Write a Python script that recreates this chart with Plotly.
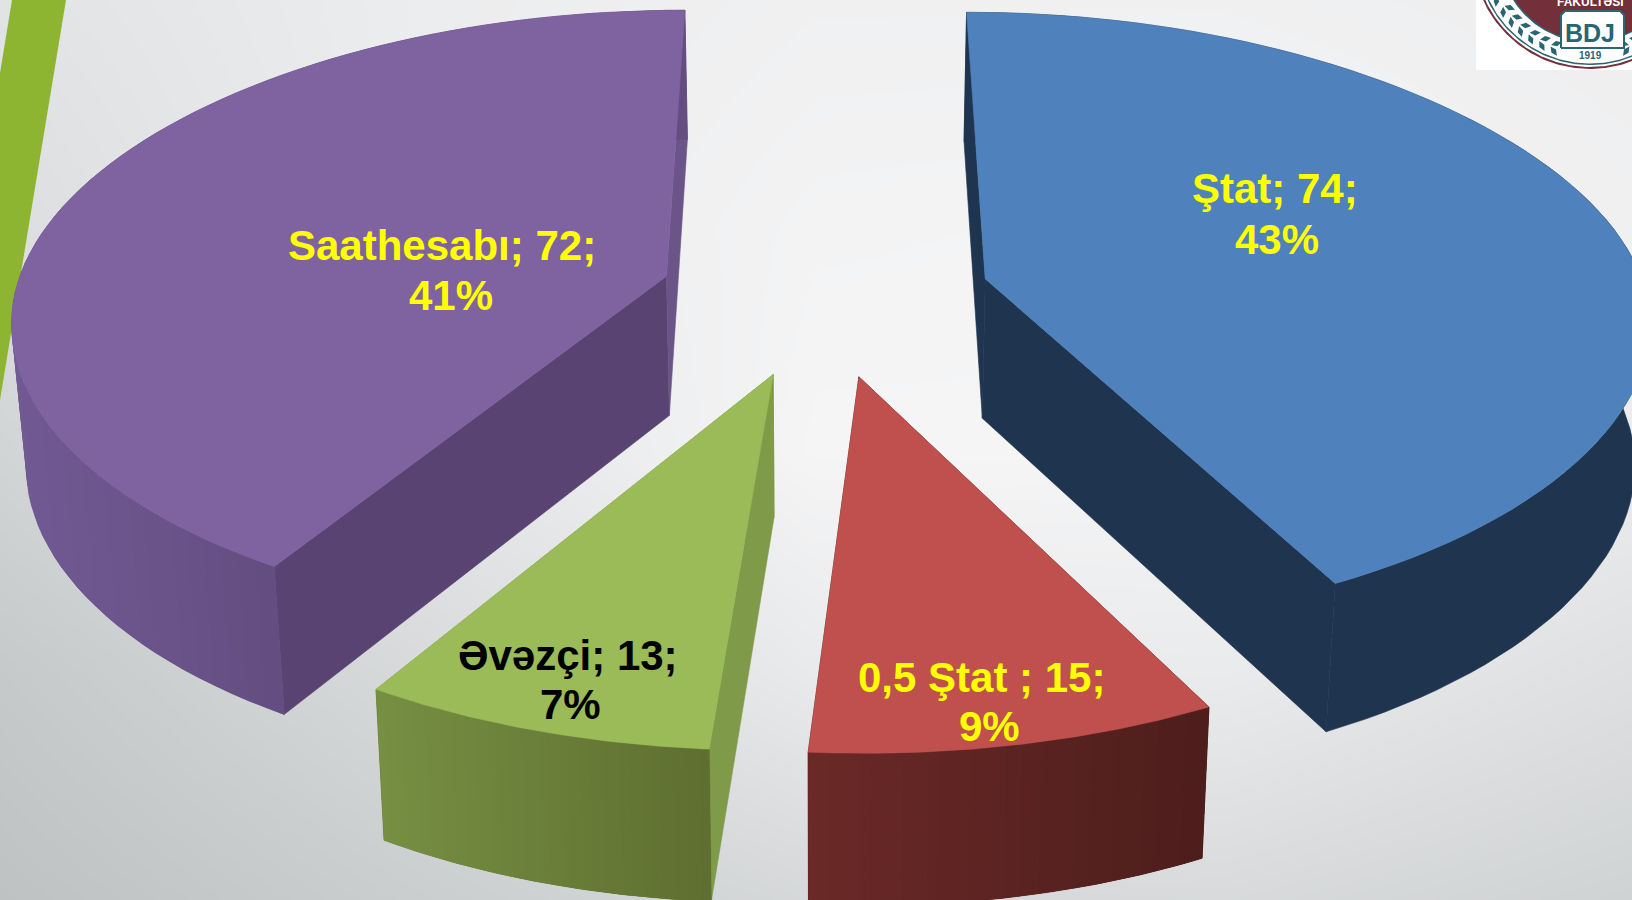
import numpy as np
import plotly.graph_objects as go

# ---- data
categories = ["Ştat", "0,5 Ştat ", "Əvəzçi", "Saathesabı"]
values = [74, 15, 13, 72]

# ---- styles
top_colors = ["#4F81BD", "#C0504D", "#9BBB59", "#7F63A1"]
side_left = ["#1F344F", "#6A2927", "#768F42", "#715A93"]
side_right = ["#1F344F", "#4D1E1C", "#5E6F31", "#644E81"]
inner_start = ["#1F344F", "#4D1E1C", "#7F9A48", "#594373"]
inner_end = ["#1F344F", "#4D1E1C", "#7F9A48", "#6B5488"]
label_colors = ["#FFFF00", "#FFFF00", "#000000", "#FFFF00"]
label_pos_1 = [(1275, 188), (981, 677), (568, 655), (442, 245)]
label_pos_2 = [(1277, 239), (989, 726), (570, 704), (451, 295)]
radius_scale = [1.0, 0.992, 0.992, 1.0]
rim_u_scale = [1.0, 1.012, 1.01, 1.0]
rim_bulge = [0.024, 0.0, 0.0, 0.010]

bg_x = [0, 408, 816, 1224, 1632]
bg_y = [0, 225, 450, 675, 900]
bg_z = [[226, 236, 240, 240, 238],
        [220, 236, 243, 244, 240],
        [210, 228, 245, 245, 236],
        [198, 215, 233, 234, 222],
        [190, 203, 214, 216, 208]]

# ---- camera of the tilted, exploded pie
XC, YH, A, B, P, EXPLODE = 825.0, -2015.0, 646.0, 2312.0, 0.1325, 0.257
H0, H1, K = 140.0, -10.0, 0.018


def project(u, t, bottom=False):
    u, t = np.asarray(u, float), np.asarray(t, float)
    w = 1 + P * t
    x = XC + A * u / w
    y = YH + B / w
    if bottom:
        y = y + H0 + H1 * t
        x = XC + (x - XC) * (1 - K)
    return x, y


def mix(c0, c1, f):
    a = [int(c0[i:i + 2], 16) for i in (1, 3, 5)]
    b = [int(c1[i:i + 2], 16) for i in (1, 3, 5)]
    return "rgb(%d,%d,%d)" % tuple(round(p + (q - p) * f) for p, q in zip(a, b))


def poly(x, y, color, lw=0.6):
    return go.Scatter(x=list(x), y=list(y), mode="lines", fill="toself", fillcolor=color,
                      line=dict(color=color, width=lw), hoverinfo="skip", showlegend=False)


def circle(cx, cy, r, color):
    th = np.linspace(0, 2 * np.pi, 361)
    return poly(cx + r * np.cos(th), cy + r * np.sin(th), color, 0)


fig = go.Figure()
fig.add_trace(go.Heatmap(x=bg_x, y=bg_y, z=bg_z, zsmooth="best", showscale=False, hoverinfo="skip",
                         zmin=190, zmax=245,
                         colorscale=[[0, "#BEC2C3"], [0.5, "#D9DBDC"], [1, "#F5F5F6"]]))

# ---- green stripe of the slide
fig.add_trace(poly([12, 66, 0, 0, 12], [0, 0, 400, 73, 0], "#8DB531", 0))

# ---- logo corner
TEAL, MAROON = "#2A6573", "#74303A"
LX, LY = 1590, -48.5
fig.add_trace(poly([1476, 1640, 1640, 1476, 1476], [-5, -5, 70, 70, -5], "#FFFFFF", 0))
fig.add_trace(circle(LX, LY, 117.5, MAROON))
fig.add_trace(circle(LX, LY, 115.5, "#FFFFFF"))
fig.add_trace(circle(LX, LY, 113.5, TEAL))
fig.add_trace(circle(LX, LY, 112, "#FFFFFF"))
fig.add_trace(circle(LX, LY, 91, TEAL))
fig.add_trace(circle(LX, LY, 89.5, MAROON))
leaf_deg = np.concatenate([np.arange(20, 76, 7.0), -np.arange(20, 76, 7.0)])
leaf_x, leaf_y, leaf_a = [], [], []
for off, tilt in ((-4.0, 35), (4.0, -35)):
    leaf_x += list(LX + (102 + off) * np.sin(np.radians(leaf_deg)))
    leaf_y += list(LY + (102 + off) * np.cos(np.radians(leaf_deg)))
    leaf_a += list(-leaf_deg + tilt * np.sign(leaf_deg))
fig.add_trace(go.Scatter(x=leaf_x, y=leaf_y, mode="markers", hoverinfo="skip", showlegend=False,
                         marker=dict(symbol="diamond-wide", size=8, color=TEAL, angle=leaf_a)))
fig.add_trace(go.Scatter(x=[1561, 1561, 1565, 1620, 1624, 1624, 1561],
                         y=[48, 15, 11, 11, 15, 48, 48], mode="lines", fill="toself",
                         fillcolor="#FFFFFF", line=dict(color=TEAL, width=2),
                         hoverinfo="skip", showlegend=False))

# ---- pie wedges
total = sum(values)
angles = np.concatenate([[0], np.cumsum(values)]) / total * 360.0
N = 80
for i, v in enumerate(values):
    a0, a1 = np.radians(angles[i]), np.radians(angles[i + 1])
    mid = (a0 + a1) / 2
    ou, ot = EXPLODE * np.sin(mid), EXPLODE * np.cos(mid)
    th = np.linspace(a0, a1, N + 1)
    su = radius_scale[i] * rim_u_scale[i] * (1 + rim_bulge[i] * np.sin(th) ** 4)
    au, at = ou + su * np.sin(th), ot + radius_scale[i] * np.cos(th)
    tx, ty = project(au, at)
    bx, by = project(au, at, bottom=True)
    ax, ay = project(ou, ot)
    abx, aby = project(ou, ot, bottom=True)
    # inner cut faces
    fig.add_trace(poly([ax, tx[0], bx[0], abx, ax], [ay, ty[0], by[0], aby, ay], inner_start[i]))
    fig.add_trace(poly([ax, tx[-1], bx[-1], abx, ax], [ay, ty[-1], by[-1], aby, ay], inner_end[i]))
    # rim base, then overlapping shaded strips painted from left to right so that no seams show
    fig.add_trace(poly(np.concatenate([tx, bx[::-1], tx[:1]]), np.concatenate([ty, by[::-1], ty[:1]]),
                       mix(side_left[i], side_right[i], 0.5)))
    front = (np.cos(th[:-1]) + np.cos(th[1:])) < 0.9
    xmin, xmax = tx[:-1][front].min(), tx[:-1][front].max()
    if side_left[i] != side_right[i]:
        for j in np.argsort(tx[:-1]):
            k = min(j + 2, N) if th[j] < np.pi * 1.5 and tx[j + 1] > tx[j] else j + 1
            lo = j if tx[j + 1] > tx[j] else max(j - 1, 0)
            f = (tx[j] - xmin) / max(xmax - xmin, 1)
            c = mix(side_left[i], side_right[i], float(np.clip(f, 0, 1)))
            fig.add_trace(poly([tx[lo], tx[k], bx[k], bx[lo], tx[lo]],
                               [ty[lo], ty[k], by[k], by[lo], ty[lo]], c, 0))
    # top face
    fig.add_trace(poly(np.concatenate([[ax], tx, [ax]]), np.concatenate([[ay], ty, [ay]]), top_colors[i]))

# ---- labels
for i, (name, v) in enumerate(zip(categories, values)):
    for pos, txt in ((label_pos_1[i], f"{name}; {v};"), (label_pos_2[i], f"{round(100 * v / total)}%")):
        fig.add_annotation(x=pos[0], y=pos[1], text=f"<b>{txt}</b>", showarrow=False,
                           xanchor="center", yanchor="middle",
                           font=dict(family="Liberation Sans", size=42, color=label_colors[i]))

# ---- logo text
for x, y, txt, sz, col, fam in [(1590, 33, "<b>BDJ</b>", 25, TEAL, "Liberation Sans"),
                                (1590, 55, "<b>1919</b>", 10, TEAL, "Liberation Sans"),
                                (1590, 1, "<b>FAKÜLTƏSİ</b>", 12, "#FFFFFF", "Liberation Sans")]:
    fig.add_annotation(x=x, y=y, text=txt, showarrow=False, font=dict(family=fam, size=sz, color=col))

fig.update_layout(width=1632, height=900, margin=dict(l=0, r=0, t=0, b=0), showlegend=False,
                  paper_bgcolor="#FFFFFF", plot_bgcolor="#FFFFFF",
                  xaxis=dict(range=[0, 1632], visible=False, fixedrange=True),
                  yaxis=dict(range=[900, 0], visible=False, fixedrange=True))
fig.write_html("out.html", config={"displayModeBar": False},
               post_script="document.body.style.margin='0';document.documentElement.style.overflow='hidden';")
